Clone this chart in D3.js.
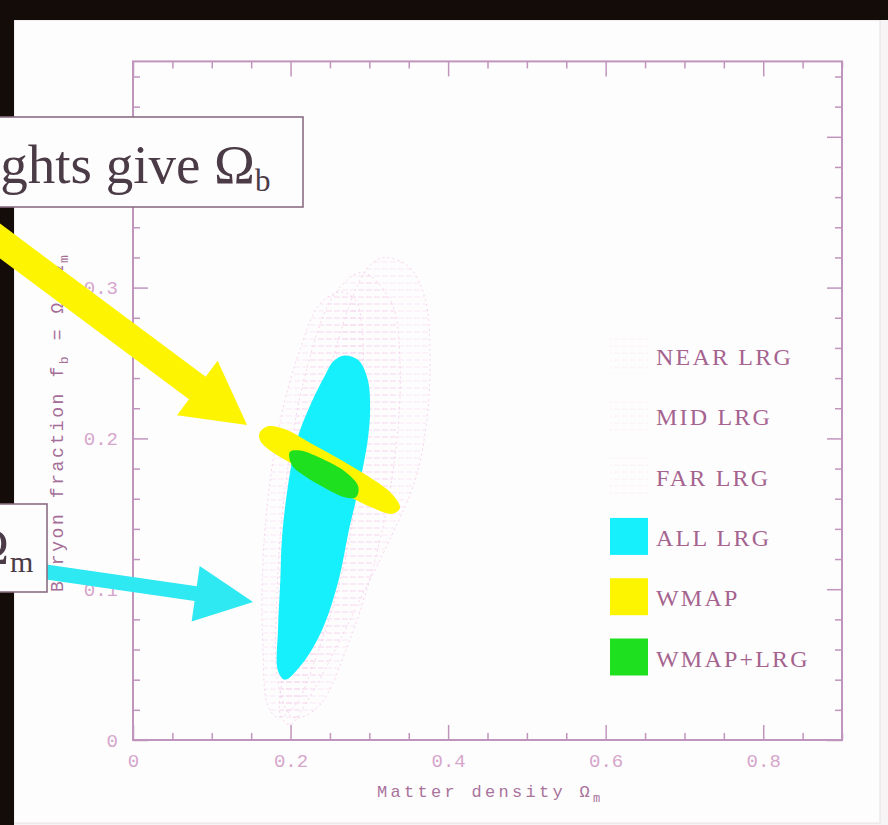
<!DOCTYPE html>
<html>
<head>
<meta charset="utf-8">
<script src="https://cdn.jsdelivr.net/npm/d3@7"></script>
<style>
  html, body { margin: 0; padding: 0; background: #ffffff; }
  svg { display: block; }
</style>
</head>
<body>
<svg id="chart" width="888" height="825"></svg>
<script>
// ---- axis ticks ----
const xTicks = [0, 0.2, 0.4, 0.6, 0.8];
const yTicks = [0, 0.1, 0.2, 0.3];
const xTickLabels = ["0", "0.2", "0.4", "0.6", "0.8"];
const yTickLabels = ["0", "0.1", "0.2", "0.3"];

// ---- legend ----
const legendLabels = ["NEAR LRG", "MID LRG", "FAR LRG", "ALL LRG", "WMAP", "WMAP+LRG"];
const legendKinds  = ["hatch", "hatch", "hatch", "all", "wmap", "joint"];

// ---- confidence regions, (Omega_m, f_b) outline points ----
const nearLRG = [
  [0.320, 0.320], [0.352, 0.313], [0.371, 0.292], [0.377, 0.259], [0.373, 0.212],
  [0.358, 0.172], [0.326, 0.133], [0.288, 0.093], [0.250, 0.053], [0.218, 0.023],
  [0.199, 0.010], [0.187, 0.017], [0.189, 0.040], [0.199, 0.093], [0.212, 0.146],
  [0.231, 0.206], [0.257, 0.259], [0.282, 0.298], [0.301, 0.315]
];
const midLRG = [
  [0.291, 0.310], [0.328, 0.290], [0.339, 0.250], [0.333, 0.190], [0.310, 0.125],
  [0.275, 0.066], [0.235, 0.022], [0.203, 0.015], [0.185, 0.035], [0.183, 0.100],
  [0.195, 0.175], [0.220, 0.245], [0.255, 0.295]
];
const farLRG = [
  [0.263, 0.297], [0.282, 0.292], [0.291, 0.272], [0.291, 0.226], [0.282, 0.159],
  [0.263, 0.106], [0.231, 0.053], [0.206, 0.023], [0.184, 0.015], [0.171, 0.023],
  [0.165, 0.060], [0.164, 0.106], [0.171, 0.159], [0.187, 0.212], [0.212, 0.259],
  [0.237, 0.289]
];
const allLRG = [
  [0.268, 0.255], [0.286, 0.252], [0.298, 0.239], [0.301, 0.219], [0.298, 0.199],
  [0.286, 0.166], [0.274, 0.139], [0.261, 0.106], [0.240, 0.073], [0.214, 0.050],
  [0.193, 0.040], [0.184, 0.046], [0.184, 0.073], [0.187, 0.106], [0.189, 0.133],
  [0.196, 0.166], [0.208, 0.199], [0.225, 0.222], [0.244, 0.242], [0.254, 0.251]
];
const wmap = [
  [0.161, 0.204], [0.171, 0.208], [0.193, 0.206], [0.225, 0.197], [0.263, 0.186],
  [0.301, 0.174], [0.329, 0.163], [0.339, 0.154], [0.329, 0.150], [0.304, 0.154],
  [0.269, 0.163], [0.231, 0.174], [0.199, 0.184], [0.174, 0.192], [0.161, 0.199]
];
const wmapLRG = [
  [0.199, 0.191], [0.212, 0.192], [0.238, 0.187], [0.269, 0.178], [0.286, 0.168],
  [0.283, 0.161], [0.269, 0.161], [0.244, 0.167], [0.218, 0.175], [0.202, 0.182]
];

// ---- slide call-out arrows, tail and tip in (Omega_m, f_b) units ----
const arrowTails = [[-0.182, 0.336], [-0.144, 0.114]];
const arrowTips  = [[0.1448, 0.2089], [0.1524, 0.0915]];

const W = 888, H = 825;
const svg = d3.select("#chart");

const x = d3.scaleLinear().domain([0, 0.9]).range([133, 842]);
const y = d3.scaleLinear().domain([0, 0.45]).range([740, 61.4]);

// ---- slide backdrop ----
svg.append("rect").attr("width", W).attr("height", H).attr("fill", "#f6f4f5");
svg.append("rect").attr("x", 14).attr("y", 20).attr("width", 866).attr("height", 803)
  .attr("fill", "#fefdfe").attr("stroke", "#e6dfe4").attr("stroke-width", 1);
svg.append("rect").attr("x", 0).attr("y", 0).attr("width", W).attr("height", 20).attr("fill", "#140c08");
svg.append("rect").attr("x", 0).attr("y", 0).attr("width", 14).attr("height", H).attr("fill", "#140c08");

// ---- hatch pattern ----
const defs = svg.append("defs");
const pat = defs.append("pattern").attr("id", "hatch")
  .attr("patternUnits", "userSpaceOnUse").attr("width", 8).attr("height", 7);
pat.append("line").attr("x1", 0).attr("y1", 3).attr("x2", 8).attr("y2", 3)
  .attr("stroke", "#f4cdea").attr("stroke-width", 1).attr("stroke-dasharray", "4,2");

const line = d3.line()
  .x(d => x(d[0])).y(d => y(d[1]))
  .curve(d3.curveCatmullRomClosed.alpha(0.5));

// ---- regions ----
const regions = svg.append("g");
[nearLRG, midLRG, farLRG].forEach(pts => {
  regions.append("path").attr("d", line(pts))
    .attr("fill", "url(#hatch)").attr("fill-opacity", 0.45)
    .attr("stroke", "#f3cbe9").attr("stroke-width", 1).attr("stroke-opacity", 0.8)
    .attr("stroke-dasharray", "2,3");
});
regions.append("path").attr("d", line(allLRG)).attr("fill", "#16f0fc");
regions.append("path").attr("d", line(wmap)).attr("fill", "#fdf500");
regions.append("path").attr("d", line(wmapLRG)).attr("fill", "#1fe01f");

// ---- axes ----
const axisColor = "#c095bd";
const monoFont = "'Liberation Mono', 'DejaVu Sans Mono', monospace";
function styleAxis(g) {
  g.select(".domain").remove();
  g.selectAll(".tick line").attr("stroke", axisColor).attr("stroke-width", 1.5);
  g.selectAll(".tick text").attr("fill", "#d5a6cb")
    .style("font-family", monoFont).style("font-size", "19px");
}
const minorX = d3.range(0, 0.9001, 0.05).filter(v => Math.abs(v * 5 - Math.round(v * 5)) > 1e-6);
const minorY = d3.range(0, 0.4501, 0.02).filter(v => Math.abs(v * 10 - Math.round(v * 10)) > 1e-6);
const majorY = yTicks.concat([0.4]);

svg.append("g").attr("transform", `translate(0,${y(0)})`)
  .call(d3.axisBottom(x).tickValues(xTicks).tickSize(-15).tickPadding(14)
    .tickFormat((d, i) => xTickLabels[i])).call(styleAxis);
svg.append("g").attr("transform", `translate(0,${y(0)})`)
  .call(d3.axisBottom(x).tickValues(minorX).tickSize(-7).tickFormat("")).call(styleAxis);
svg.append("g").attr("transform", `translate(0,${y(0.45)})`)
  .call(d3.axisTop(x).tickValues(xTicks).tickSize(-15).tickFormat("")).call(styleAxis);
svg.append("g").attr("transform", `translate(0,${y(0.45)})`)
  .call(d3.axisTop(x).tickValues(minorX).tickSize(-7).tickFormat("")).call(styleAxis);

svg.append("g").attr("transform", `translate(${x(0)},0)`)
  .call(d3.axisLeft(y).tickValues(yTicks).tickSize(-15).tickPadding(15)
    .tickFormat((d, i) => yTickLabels[i])).call(styleAxis);
svg.append("g").attr("transform", `translate(${x(0)},0)`)
  .call(d3.axisLeft(y).tickValues([0.4]).tickSize(-15).tickFormat("")).call(styleAxis);
svg.append("g").attr("transform", `translate(${x(0)},0)`)
  .call(d3.axisLeft(y).tickValues(minorY).tickSize(-7).tickFormat("")).call(styleAxis);
svg.append("g").attr("transform", `translate(${x(0.9)},0)`)
  .call(d3.axisRight(y).tickValues(majorY).tickSize(-15).tickFormat("")).call(styleAxis);
svg.append("g").attr("transform", `translate(${x(0.9)},0)`)
  .call(d3.axisRight(y).tickValues(minorY).tickSize(-7).tickFormat("")).call(styleAxis);

// frame
svg.append("rect")
  .attr("x", x(0)).attr("y", y(0.45))
  .attr("width", x(0.9) - x(0)).attr("height", y(0) - y(0.45))
  .attr("fill", "none").attr("stroke", axisColor).attr("stroke-width", 2);

// axis titles
const xt = svg.append("text").attr("x", 377).attr("y", 797)
  .attr("fill", "#a9739c").style("font-family", monoFont).style("font-size", "17px")
  .style("letter-spacing", "3.3px");
xt.append("tspan").text("Matter density \u03A9");
xt.append("tspan").attr("dy", 5).style("font-size", "12px").text("m");

const yt = svg.append("text")
  .attr("transform", "translate(63,592) rotate(-90)")
  .attr("fill", "#a56e98").style("font-family", monoFont).style("font-size", "18px")
  .style("letter-spacing", "2.6px");
yt.append("tspan").text("Baryon fraction f");
yt.append("tspan").attr("dy", 5).style("font-size", "13px").text("b");
yt.append("tspan").attr("dy", -5).text(" = \u03A9");
yt.append("tspan").attr("dy", 5).style("font-size", "13px").text("b");
yt.append("tspan").attr("dy", -5).text("/\u03A9");
yt.append("tspan").attr("dy", 5).style("font-size", "13px").text("m");

// ---- legend ----
const fills = { all: "#16f0fc", wmap: "#fdf500", joint: "#1fe01f" };
const leg = svg.append("g");
legendLabels.forEach((lab, i) => {
  const base = 365 + i * 60.3;
  const kind = legendKinds[i];
  leg.append("rect").attr("x", 610).attr("y", base - 28).attr("width", 38).attr("height", 37)
    .attr("fill", kind === "hatch" ? "url(#hatch)" : fills[kind])
    .attr("fill-opacity", kind === "hatch" ? 0.3 : 1);
  leg.append("text").attr("x", 656).attr("y", base).text(lab)
    .attr("fill", "#a5638f")
    .style("font-family", "'Liberation Serif', 'DejaVu Serif', serif")
    .style("font-size", "24px").style("letter-spacing", "2.2px");
});

// ---- call-out arrows ----
const arrowStyle = [
  { color: "#fcf400", shaft: 28, headLen: 62, headW: 68 },
  { color: "#2ee8f2", shaft: 15, headLen: 58, headW: 56 }
];
arrowTails.forEach((t, i) => {
  const s = arrowStyle[i];
  const x0 = x(t[0]), y0 = y(t[1]);
  const x1 = x(arrowTips[i][0]), y1 = y(arrowTips[i][1]);
  const len = Math.hypot(x1 - x0, y1 - y0);
  const ux = (x1 - x0) / len, uy = (y1 - y0) / len;
  const px = -uy, py = ux;
  const bx = x1 - ux * s.headLen, by = y1 - uy * s.headLen;
  const hw = s.shaft / 2, hh = s.headW / 2;
  const pts = [
    [x0 + px * hw, y0 + py * hw],
    [bx + px * hw, by + py * hw],
    [bx + px * hh, by + py * hh],
    [x1, y1],
    [bx - px * hh, by - py * hh],
    [bx - px * hw, by - py * hw],
    [x0 - px * hw, y0 - py * hw]
  ];
  svg.append("polygon").attr("points", pts.map(p => p.join(",")).join(" "))
    .attr("fill", s.color);
});

// ---- slide text boxes ----
const serif = "'Liberation Serif', 'Times New Roman', serif";
svg.append("rect").attr("x", -4).attr("y", 117).attr("width", 307).attr("height", 90)
  .attr("fill", "#fefdfe").attr("stroke", "#8a6d83").attr("stroke-width", 1.6);
svg.append("text").attr("x", 255).attr("y", 183).attr("text-anchor", "end")
  .attr("fill", "#4b3b47").style("font-family", serif).style("font-size", "55px")
  .text("ghts give \u03A9");
svg.append("text").attr("x", 255).attr("y", 191)
  .attr("fill", "#4b3b47").style("font-family", serif).style("font-size", "31px").text("b");

svg.append("rect").attr("x", -4).attr("y", 504).attr("width", 51).attr("height", 88)
  .attr("fill", "#fefdfe").attr("stroke", "#8a6d83").attr("stroke-width", 1.6);
svg.append("text").attr("x", 9).attr("y", 563).attr("text-anchor", "end")
  .attr("fill", "#4b3b47").style("font-family", serif).style("font-size", "50px").text("\u03A9");
svg.append("text").attr("x", 10).attr("y", 572)
  .attr("fill", "#4b3b47").style("font-family", serif).style("font-size", "30px").text("m");
</script>
</body>
</html>
